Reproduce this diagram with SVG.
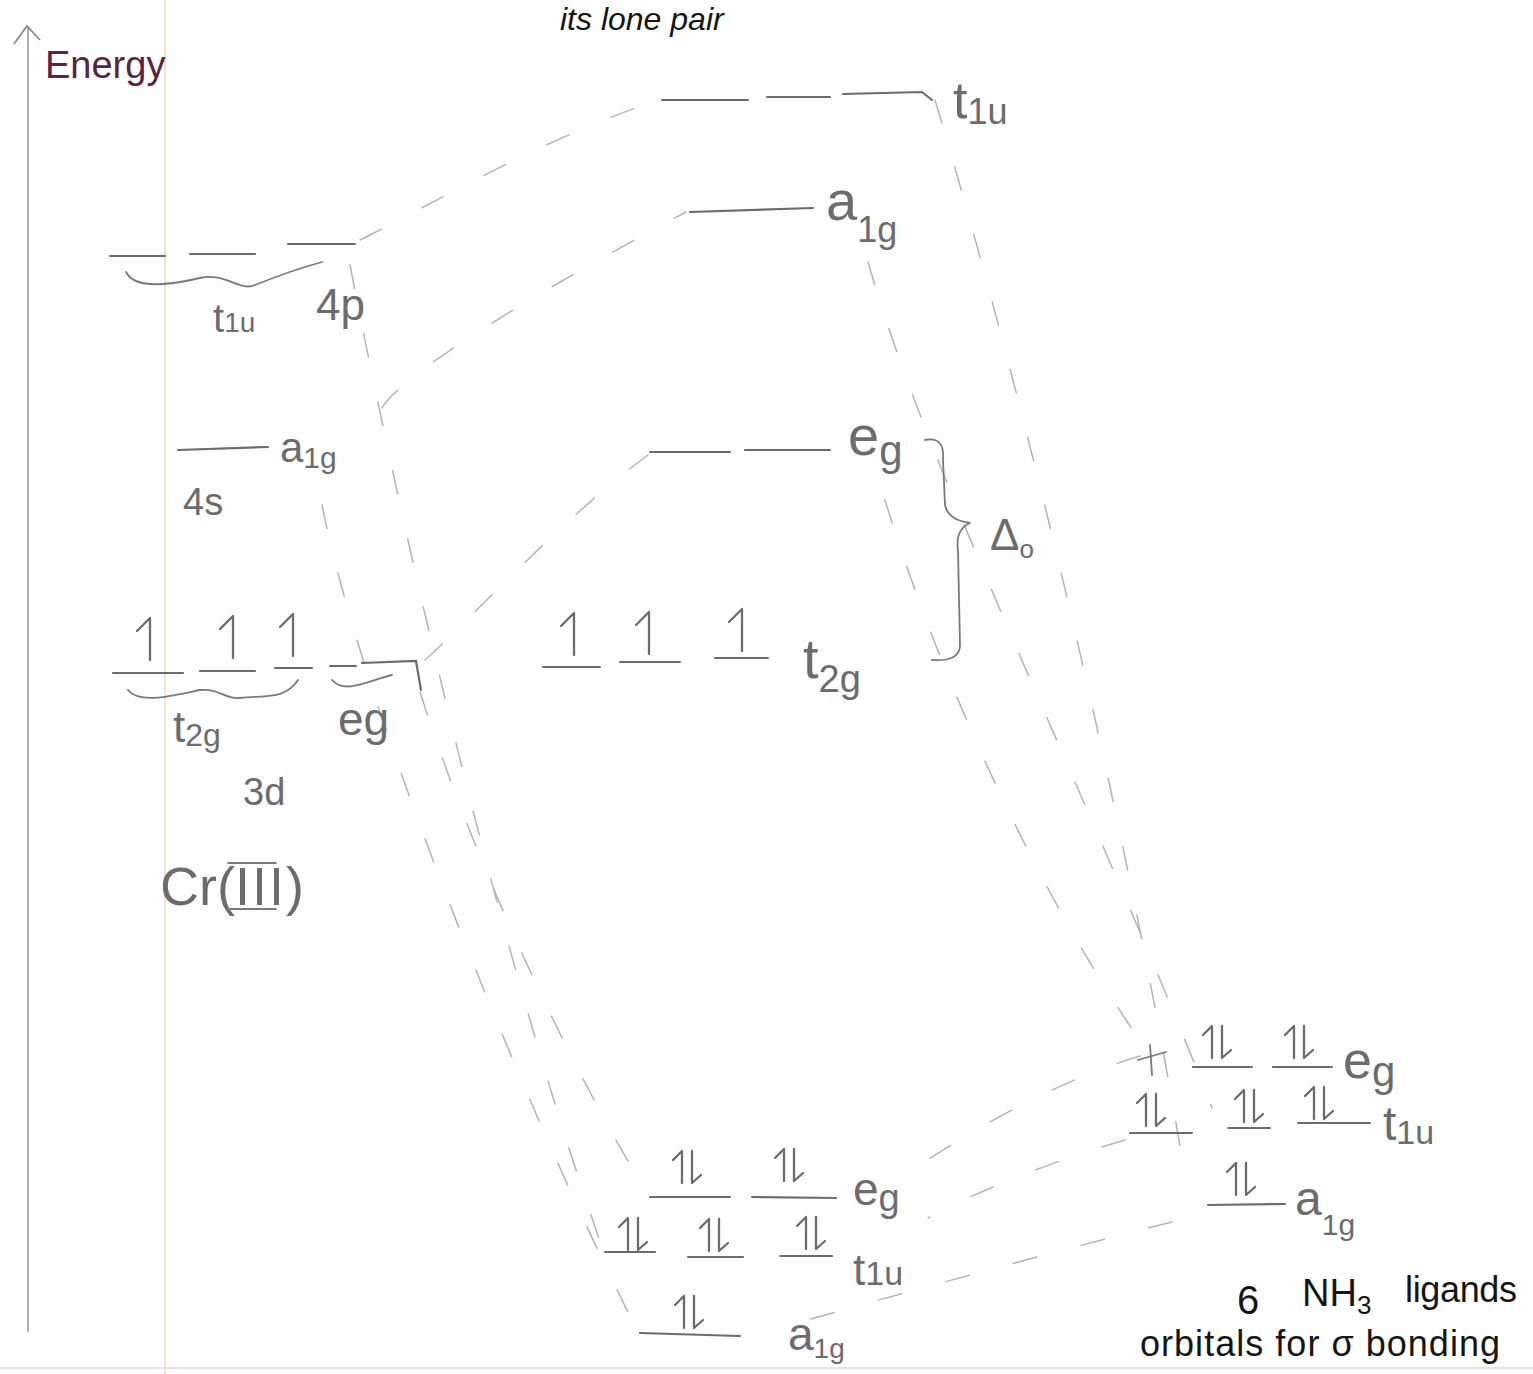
<svg xmlns="http://www.w3.org/2000/svg" width="1533" height="1374" viewBox="0 0 1533 1374">
<style>
.lvl{stroke:#6c6c6c;stroke-width:2.2;fill:none;stroke-linecap:round}
.con{stroke:#b4b4b4;stroke-width:1.5;fill:none;stroke-dasharray:24 46;stroke-linecap:round}
.pen{stroke:#7a7a7a;stroke-width:1.8;fill:none;stroke-linecap:round;stroke-linejoin:round}
.e{stroke:#6c6c6c;stroke-width:2.3;fill:none;stroke-linecap:round;stroke-linejoin:round}
.lbl{font-family:"Liberation Sans",sans-serif;fill:#6c6c6c}
.ink{font-family:"Liberation Sans",sans-serif;fill:#151515}
</style>
<defs>
<path id="up" d="M0,0 V-42 L-13,-29"/>
<g id="pair"><path d="M-6,0 V-32 L-15,-23"/><path d="M4,-32 V0 L13,-8"/></g>
</defs>
<rect width="1533" height="1374" fill="#ffffff"/>
<line x1="165" y1="0" x2="165" y2="1374" stroke="#f7d6bd" stroke-width="1.5"/>
<line x1="0" y1="1368" x2="1533" y2="1368" stroke="#e4e4e4" stroke-width="2"/>
<g id="title-fragment"><text class="ink" x="560" y="30" font-size="32" font-style="italic">its lone pair</text></g>
<g id="axis">
<line x1="28" y1="1332" x2="28" y2="28" stroke="#9a9a9a" stroke-width="1.6"/>
<path d="M14,44 L27,26 L40,40" stroke="#8a8a8a" stroke-width="1.8" fill="none"/>
<text x="45" y="78" font-family="Liberation Sans,sans-serif" font-size="38" fill="#5b2340">Energy</text>
</g>
<g id="connectors">
<path class="con" d="M360,240 C440,200 540,140 658,100"/>
<path class="con" d="M382,408 C400,375 540,290 686,212"/>
<path class="con" d="M425,660 C480,610 560,520 648,455"/>
<path class="con" d="M350,265 C380,420 480,900 603,1250"/>
<path class="con" d="M322,505 C360,700 520,1100 638,1332"/>
<path class="con" d="M420,692 C470,850 560,1050 648,1195"/>
<path class="con" d="M935,100 C1010,350 1120,780 1187,1188"/>
<path class="con" d="M868,262 C930,480 1100,820 1212,1108"/>
<path class="con" d="M885,500 C940,680 1040,900 1150,1055"/>
<path class="con" d="M1140,1056 C1060,1080 980,1125 920,1165"/>
<path class="con" d="M1125,1140 C1040,1165 970,1195 928,1218"/>
<path class="con" d="M1172,1222 C1080,1245 950,1280 800,1322"/>
<path class="pen" d="M1138,1060 L1166,1052 M1150,1045 L1152,1075"/>
</g>
<g id="cr-4p">
<line class="lvl" x1="110" y1="256" x2="165" y2="256"/>
<line class="lvl" x1="190" y1="254" x2="255" y2="254"/>
<line class="lvl" x1="288" y1="244" x2="355" y2="244"/>
<path class="pen" d="M126,272 C135,290 170,285 200,278 C225,272 240,292 255,285 C280,275 300,268 322,262"/>
<text class="lbl" x="213" y="332" font-size="40">t<tspan font-size="28">1u</tspan></text>
<text class="lbl" x="316" y="320" font-size="44">4p</text>
</g>
<g id="cr-4s">
<line class="lvl" x1="178" y1="450" x2="268" y2="447"/>
<text class="lbl" x="280" y="462" font-size="42">a<tspan font-size="30" dy="6">1g</tspan></text>
<text class="lbl" x="183" y="515" font-size="38">4s</text>
</g>
<g id="cr-3d">
<line class="lvl" x1="113" y1="673" x2="183" y2="673"/>
<line class="lvl" x1="200" y1="671" x2="255" y2="671"/>
<line class="lvl" x1="275" y1="668" x2="312" y2="668"/>
<use href="#up" class="e" x="150" y="660"/>
<use href="#up" class="e" x="233" y="658"/>
<use href="#up" class="e" x="293" y="656"/>
<line class="lvl" x1="330" y1="666" x2="356" y2="666"/>
<path class="lvl" d="M362,663 L416,661 L421,690"/>
<path class="pen" d="M128,690 C140,705 175,695 200,690 C220,688 225,700 240,698 C265,695 285,700 298,680"/>
<path class="pen" d="M332,680 C345,695 370,680 392,675"/>
<text class="lbl" x="173" y="742" font-size="44">t<tspan font-size="32" dy="4">2g</tspan></text>
<text class="lbl" x="338" y="735" font-size="46">eg</text>
<text class="lbl" x="243" y="805" font-size="38">3d</text>
<text class="lbl" x="160" y="905" font-size="54">Cr(<tspan letter-spacing="2">III</tspan>)</text>
<line class="pen" x1="228" y1="863" x2="276" y2="863"/>
<line class="pen" x1="228" y1="909" x2="276" y2="909"/>
</g>
<g id="mo-t1u-star">
<line class="lvl" x1="662" y1="100" x2="748" y2="100"/>
<line class="lvl" x1="767" y1="97" x2="830" y2="97"/>
<path class="lvl" d="M843,94 L922,92 L932,100"/>
<text class="lbl" x="953" y="118" font-size="52">t<tspan font-size="36" dy="6">1u</tspan></text>
</g>
<g id="mo-a1g-star">
<line class="lvl" x1="690" y1="212" x2="813" y2="208"/>
<text class="lbl" x="826" y="220" font-size="56">a<tspan font-size="36" dy="22">1g</tspan></text>
</g>
<g id="mo-eg-star">
<line class="lvl" x1="650" y1="452" x2="730" y2="452"/>
<line class="lvl" x1="745" y1="450" x2="830" y2="450"/>
<text class="lbl" x="848" y="455" font-size="56">e<tspan font-size="42" dy="10">g</tspan></text>
</g>
<g id="mo-t2g">
<line class="lvl" x1="543" y1="667" x2="600" y2="667"/>
<line class="lvl" x1="620" y1="662" x2="680" y2="662"/>
<line class="lvl" x1="715" y1="658" x2="768" y2="658"/>
<use href="#up" class="e" x="574" y="655"/>
<use href="#up" class="e" x="649" y="654"/>
<use href="#up" class="e" x="742" y="651"/>
<text class="lbl" x="803" y="678" font-size="56">t<tspan font-size="38" dy="14">2g</tspan></text>
</g>
<g id="delta-o">
<path class="pen" d="M925,440 Q945,436 943,460 L945,505 Q948,520 970,523 Q955,530 958,550 L960,645 Q960,662 932,660"/>
<text class="lbl" x="990" y="550" font-size="44">Δ<tspan font-size="26" dy="8">o</tspan></text>
</g>
<g id="mo-eg">
<line class="lvl" x1="650" y1="1197" x2="730" y2="1197"/>
<line class="lvl" x1="752" y1="1197" x2="836" y2="1198"/>
<use href="#pair" class="e" x="688" y="1183"/>
<use href="#pair" class="e" x="790" y="1181"/>
<text class="lbl" x="853" y="1205" font-size="46">e<tspan font-size="38" dy="6">g</tspan></text>
</g>
<g id="mo-t1u">
<line class="lvl" x1="605" y1="1252" x2="655" y2="1252"/>
<line class="lvl" x1="688" y1="1257" x2="743" y2="1257"/>
<line class="lvl" x1="780" y1="1256" x2="832" y2="1256"/>
<use href="#pair" class="e" x="634" y="1250"/>
<use href="#pair" class="e" x="715" y="1251"/>
<use href="#pair" class="e" x="812" y="1249"/>
<text class="lbl" x="853" y="1285" font-size="44">t<tspan font-size="34">1u</tspan></text>
</g>
<g id="mo-a1g">
<line class="lvl" x1="640" y1="1333" x2="740" y2="1336"/>
<use href="#pair" class="e" x="690" y="1328"/>
<text class="lbl" x="788" y="1350" font-size="46">a<tspan font-size="28" dy="8">1g</tspan></text>
</g>
<g id="lig-eg">
<line class="lvl" x1="1193" y1="1067" x2="1252" y2="1067"/>
<line class="lvl" x1="1273" y1="1067" x2="1332" y2="1067"/>
<use href="#pair" class="e" x="1218" y="1058"/>
<use href="#pair" class="e" x="1300" y="1058"/>
<text class="lbl" x="1343" y="1078" font-size="52">e<tspan font-size="42" dy="8">g</tspan></text>
</g>
<g id="lig-t1u">
<line class="lvl" x1="1130" y1="1133" x2="1192" y2="1133"/>
<line class="lvl" x1="1228" y1="1128" x2="1270" y2="1128"/>
<line class="lvl" x1="1298" y1="1123" x2="1370" y2="1123"/>
<use href="#pair" class="e" x="1152" y="1126"/>
<use href="#pair" class="e" x="1250" y="1122"/>
<use href="#pair" class="e" x="1320" y="1119"/>
<text class="lbl" x="1383" y="1140" font-size="48">t<tspan font-size="34" dy="4">1u</tspan></text>
</g>
<g id="lig-a1g">
<line class="lvl" x1="1208" y1="1205" x2="1285" y2="1204"/>
<use href="#pair" class="e" x="1242" y="1195"/>
<text class="lbl" x="1295" y="1215" font-size="48">a<tspan font-size="30" dy="20">1g</tspan></text>
</g>
<g id="ligand-caption">
<text class="ink" x="1237" y="1314" font-size="40">6</text>
<text class="ink" x="1302" y="1306" font-size="38">NH<tspan font-size="26" dy="8">3</tspan></text>
<text class="ink" x="1405" y="1302" font-size="36" textLength="112">ligands</text>
<text class="ink" x="1140" y="1356" font-size="36" textLength="360">orbitals for σ bonding</text>
</g>
</svg>
